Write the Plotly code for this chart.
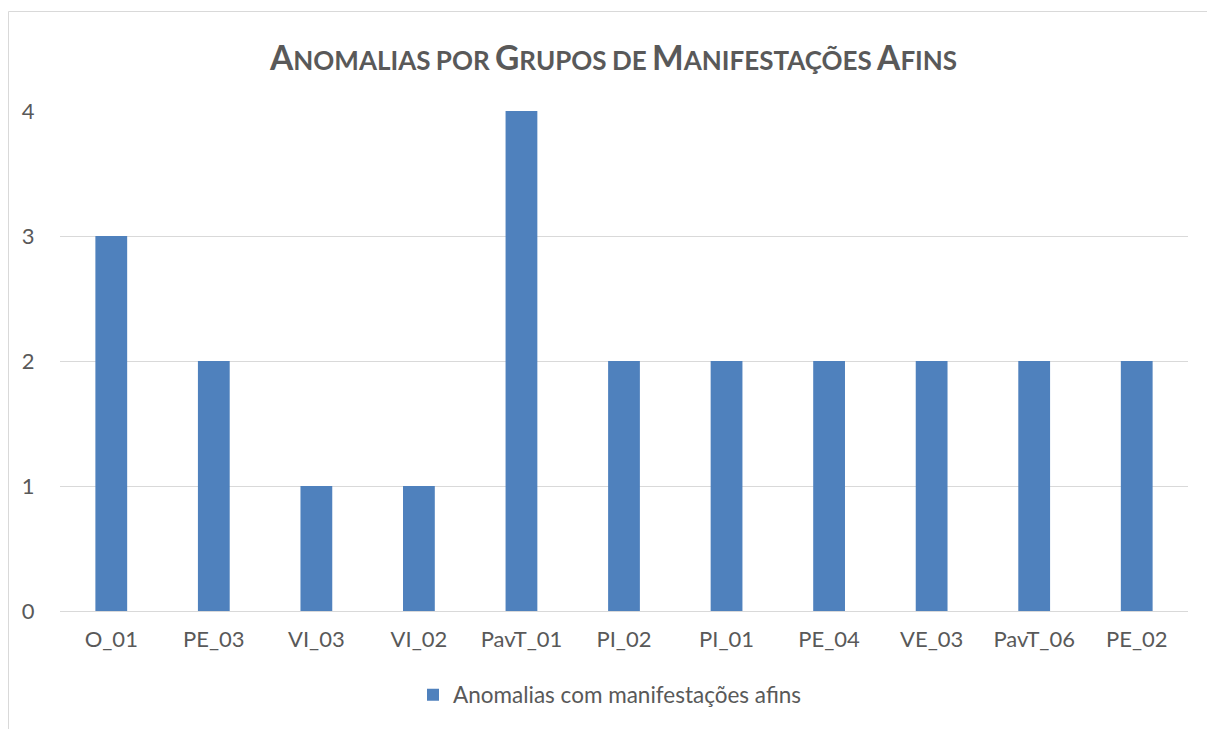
import plotly.graph_objects as go

categories = ["O_01", "PE_03", "VI_03", "VI_02", "PavT_01", "PI_02",
              "PI_01", "PE_04", "VE_03", "PavT_06", "PE_02"]
values = [3, 2, 1, 1, 4, 2, 2, 2, 2, 2, 2]
series_name = "Anomalias com manifestações afins"
y_ticks = [0, 1, 2, 3, 4]

BAR = "#4F81BD"
TXT = "#595959"
GRID = "#D9D9D9"
FONT = "Lato"

W, H = 1207, 729
L, R, T, B = 60, 19, 111, 118
pw, ph = W - L - R, H - T - B


def sc(text, big, small):
    """Small-caps rendering: first letter of each word large, rest small."""
    parts = []
    for word in text.split(" "):
        first, rest = word[0], word[1:]
        if first.isupper():
            parts.append(f"<span style='font-size:{big}px'>{first}</span>"
                         f"<span style='font-size:{small}px'>{rest.upper()}</span>")
        else:
            parts.append(f"<span style='font-size:{small}px'>{word.upper()}</span>")
    return " ".join(parts)


fig = go.Figure()
fig.add_trace(go.Bar(
    x=categories, y=values, name=series_name,
    marker=dict(color=BAR, line=dict(width=0)),
    showlegend=True,
))

title_text = sc("Anomalias por Grupos de Manifestações Afins", 33.5, 26)

fig.update_layout(
    width=W, height=H,
    margin=dict(l=L, r=R, t=T, b=B),
    paper_bgcolor="white", plot_bgcolor="white",
    bargap=0.69,
    font=dict(family=FONT, color=TXT, size=22),
    xaxis=dict(showgrid=False, showline=True, linecolor=GRID, linewidth=1,
               ticks="outside", ticklen=9, tickcolor="rgba(0,0,0,0)",
               tickfont=dict(size=22, color=TXT)),
    yaxis=dict(range=[0, 4], tickvals=y_ticks, showgrid=True, gridcolor=GRID,
               gridwidth=1, zeroline=False, showline=False,
               ticks="outside", ticklen=20, tickcolor="rgba(0,0,0,0)",
               tickfont=dict(size=22, color=TXT)),
    legend=dict(orientation="h", x=(610 - L) / pw, xanchor="center",
                y=(611 - 695) / ph, yanchor="middle",
                font=dict(size=22.5, color=TXT), itemwidth=30,
                bgcolor="rgba(0,0,0,0)"),
    showlegend=True,
    annotations=[dict(
        text=f"<b>{title_text}</b>", xref="paper", yref="paper",
        x=(613 - L) / pw, y=(611 - 57) / ph, xanchor="center", yanchor="middle",
        showarrow=False, font=dict(family=FONT, color=TXT),
    )],
    shapes=[dict(
        type="rect", xref="paper", yref="paper",
        x0=(8.5 - L) / pw, x1=(W + 5 - L) / pw,
        y0=(611 - (H + 5)) / ph, y1=(611 - 11.5) / ph,
        line=dict(color=GRID, width=1), fillcolor="rgba(0,0,0,0)", layer="below",
    )],
)

fig.write_html("out.html")
